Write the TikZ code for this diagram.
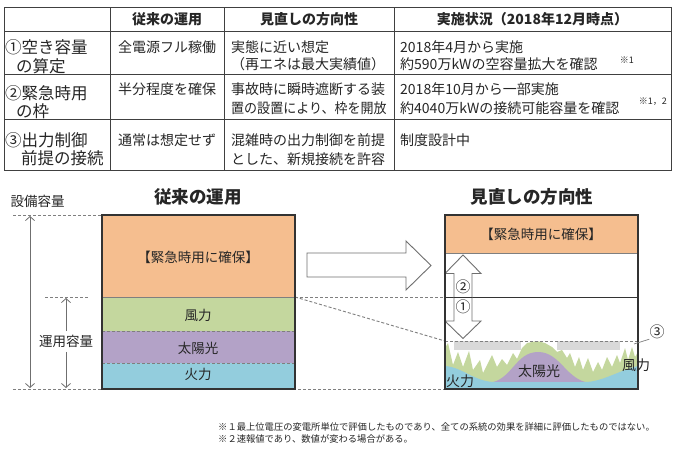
\documentclass[tikz,border=0pt]{standalone}
\usepackage{fontspec}
\setmainfont{Noto Sans CJK JP}
\usetikzlibrary{arrows.meta}
\definecolor{orgF}{HTML}{F5BE8F}
\definecolor{grnF}{HTML}{C4D79E}
\definecolor{purF}{HTML}{B3A2C7}
\definecolor{bluF}{HTML}{93CDDD}
\definecolor{gryF}{HTML}{D9D9D9}
\definecolor{tblC}{HTML}{404040}
\definecolor{boxC}{HTML}{333333}
\definecolor{dshC}{HTML}{7F7F7F}
\definecolor{arrC}{HTML}{6F6F6F}
\definecolor{txtC}{HTML}{262626}
\tikzset{
  tl/.style={draw=tblC, line width=0.9pt},
  hd/.style={font=\bfseries\fontsize{14}{16}\selectfont, inner sep=0pt, text=txtC},
  cA/.style={anchor=west, inner sep=0pt, font=\fontsize{16.5}{18}\selectfont, text=txtC},
  cB/.style={anchor=west, inner sep=0pt, font=\fontsize{14}{16}\selectfont, text=txtC},
  nt/.style={anchor=east, inner sep=0pt, font=\fontsize{9}{10}\selectfont, text=txtC},
  ttl/.style={font=\bfseries\fontsize{17.5}{20}\selectfont, inner sep=0pt, text=txtC},
  lb/.style={font=\fontsize{13.5}{15}\selectfont, inner sep=0pt, text=txtC},
  boxl/.style={draw=boxC, line width=1.3pt},
  dsh/.style={draw=dshC, line width=0.9pt, dash pattern=on 3pt off 2pt},
  dimarr/.style={draw=arrC, line width=0.8pt},
  hollow/.style={draw=arrC, line width=0.9pt},
  fnt/.style={anchor=west, inner sep=0pt, font=\fontsize{9.3}{11}\selectfont, text=txtC},
  circ/.style={font=\fontsize{15}{16}\selectfont, inner sep=0pt, text=txtC},
}
\begin{document}
\begin{tikzpicture}[x=1pt,y=-1pt,>={Straight Barb[length=4pt,width=9pt]}]
\useasboundingbox (0,0) rectangle (690,450);
\fill[white] (0,0) rectangle (690,450);

% ---------------- table ----------------
\draw[tl] (4,7) rectangle (671,170);
\foreach \xx in {110,224,394} \draw[tl] (\xx,7) -- (\xx,170);
\foreach \yy in {31.5,74,119} \draw[tl] (4,\yy) -- (671,\yy);

\node[hd] (h2) at (167,19.5) {従来の運用};
\node[hd] (h3) at (309,19.5) {見直しの方向性};
\node[hd] (h4) at (532.5,19.5) {実施状況（2018年12月時点）};

\node[cA] (r1a) at (5,47) {①空き容量};
\node[cA] (r1b) at (16,66.5) {の算定};
\node[cB] (r1c) at (118,47) {全電源フル稼働};
\node[cB] (r1d) at (231,47) {実態に近い想定};
\node[cB] (r1e) at (231,64.5) {（再エネは最大実績値）};
\node[cB] (r1f) at (400,47) {2018年4月から実施};
\node[cB] (r1g) at (400,64.5) {約590万kWの空容量拡大を確認};
\node[nt] (r1n) at (634,60) {※1};

\node[cA] (r2a) at (5,93) {②緊急時用};
\node[cA] (r2b) at (16,111.5) {の枠};
\node[cB] (r2c) at (118,89.5) {半分程度を確保};
\node[cB] (r2d) at (231,89.5) {事故時に瞬時遮断する装};
\node[cB] (r2e) at (231,108) {\scalebox{0.93}[1]{置の設置により、枠を開放}};
\node[cB] (r2f) at (400,89.5) {2018年10月から一部実施};
\node[cB] (r2g) at (400,108) {約4040万kWの接続可能容量を確認};
\node[nt] (r2n) at (667,102) {※1，2};

\node[cA] (r3a) at (5,140) {③出力制御};
\node[cA] (r3b) at (21,158.5) {前提の接続};
\node[cB] (r3c) at (118,140.5) {通常は想定せず};
\node[cB] (r3d) at (231,140.5) {混雑時の出力制御を前提};
\node[cB] (r3e) at (231,159) {とした、新規接続を許容};
\node[cB] (r3f) at (400,140.5) {制度設計中};

% ---------------- titles ----------------
\node[ttl] (t1) at (198,197) {従来の運用};
\node[ttl] (t2) at (532,197) {見直しの方向性};
\node[lb] (cap) at (37.5,201) {設備容量};

% ---------------- left box ----------------
\fill[orgF] (102,215) rectangle (295,297);
\fill[grnF] (102,297) rectangle (295,331);
\fill[purF] (102,331) rectangle (295,363);
\fill[bluF] (102,363) rectangle (295,389);
\draw[dshC, line width=0.6pt] (102,297) -- (295,297);
\draw[dsh] (102,331) -- (295,331);
\draw[dsh] (102,363) -- (295,363);

\coordinate (LT) at (102,215);
\coordinate (LM) at (295,297);
\coordinate (RT) at (445,215);
\coordinate (RM) at (445,297);
\coordinate (RD) at (445,341);
\coordinate (RB) at (445,389);

\draw[dsh] (13,215) -- (LT);
\draw[dsh] (45,297) -- (88,297);
\draw[dsh] (13,389) -- (RB);
\draw[dsh] (LM) -- (RM);
\draw[dsh] (LM) -- (RD);

\draw[boxl] (102,215) rectangle (295,389);

\node[lb] (e1) at (198,257) {【緊急時用に確保】};
\node[lb] (w1) at (198,315) {風力};
\node[lb] (s1) at (198,348) {太陽光};
\node[lb] (f1) at (198,374.5) {火力};
\node[lb] (op) at (66,341.5) {運用容量};

\coordinate (A1) at (30,216);
\coordinate (A2) at (30,388);
\draw[dimarr,<->] (A1) -- (A2);
\coordinate (B1) at (66,298);
\coordinate (B2) at (66,388);
\draw[dimarr,->] (op.north) ++(0,-4) -- (B1);
\draw[dimarr,->] (op.south) ++(0,4) -- (B2);

% ---------------- big hollow arrow ----------------
\draw[hollow, fill=white] (307,253) -- (406,253) -- (406,241) -- (431,265.5) -- (406,290) -- (406,277) -- (307,277) -- cycle;

% ---------------- right box ----------------
\fill[orgF] (445,215) rectangle (638,253);
\draw[dshC, line width=0.6pt] (445,253) -- (638,253);

% wind
\fill[grnF] (445,348) -- (448,343) -- (453,365) -- (458,352) -- (463,367) -- (469,351) -- (473,370) -- (480,360) -- (483,373) -- (492,355) -- (497,367) -- (502,359) -- (507,365) -- (513,353) -- (517,359) -- (522,348) -- (527,343) -- (537,341) -- (545,343) -- (552,347) -- (557,352) -- (562,350) -- (567,358) -- (570,353) -- (575,367) -- (579,357) -- (583,370) -- (588,358) -- (593,372) -- (598,362) -- (602,370) -- (607,357) -- (612,367) -- (617,355) -- (620,363) -- (625,348) -- (628,360) -- (632,347) -- (635,357) -- (638,352) -- (638,389) -- (445,389) -- cycle;
% sun
\fill[purF] (488,383) .. controls (512,381) and (515,352) .. (538,352) .. controls (561,352) and (566,381) .. (591,383) -- cycle;
% thermal
\fill[bluF] (445,366) .. controls (462,367) and (475,382) .. (495,382) -- (585,382) .. controls (602,382) and (620,370) .. (638,366) -- (638,389) -- (445,389) -- cycle;
% gray bands
\fill[gryF] (454,341) rectangle (521,350);
\fill[gryF] (557,341) rectangle (620,350);

\draw[dsh] (RD) -- (638,341);
\draw[boxC, line width=1pt] (RM) -- (638,297);

% double hollow arrow
\draw[hollow] (463,255) -- (481,273.5) -- (472,273.5) -- (472,321) -- (481,321) -- (463,338.5) -- (445,321) -- (454,321) -- (454,273.5) -- (445,273.5) -- cycle;
\draw[boxC, line width=1pt] (454,297) -- (472,297);
\node[circ] (c2) at (463,287) {②};
\node[circ] (c1) at (463,307) {①};

\draw[boxl] (RT) rectangle (638,389);

\node[lb] (e2) at (541,234) {【緊急時用に確保】};
\node[lb, font=\fontsize{14}{15}\selectfont] (f2) at (460,381.5) {火力};
\node[lb, font=\fontsize{14}{15}\selectfont] (s2) at (539,371.5) {太陽光};
\node[lb, font=\fontsize{14}{15}\selectfont] (w2) at (636,365.5) {風力};
\node[circ] (c3) at (657,332) {③};
\coordinate (L3) at (634,344);
\draw[dshC, line width=0.7pt] (L3) -- (c3.south west);

% ---------------- footnotes ----------------
\node[fnt] (n1) at (218,427) {※１最上位電圧の変電所単位で評価したものであり、全ての系統の効果を詳細に評価したものではない。};
\node[fnt] (n2) at (218,438.5) {※２速報値であり、数値が変わる場合がある。};
\end{tikzpicture}
\end{document}
